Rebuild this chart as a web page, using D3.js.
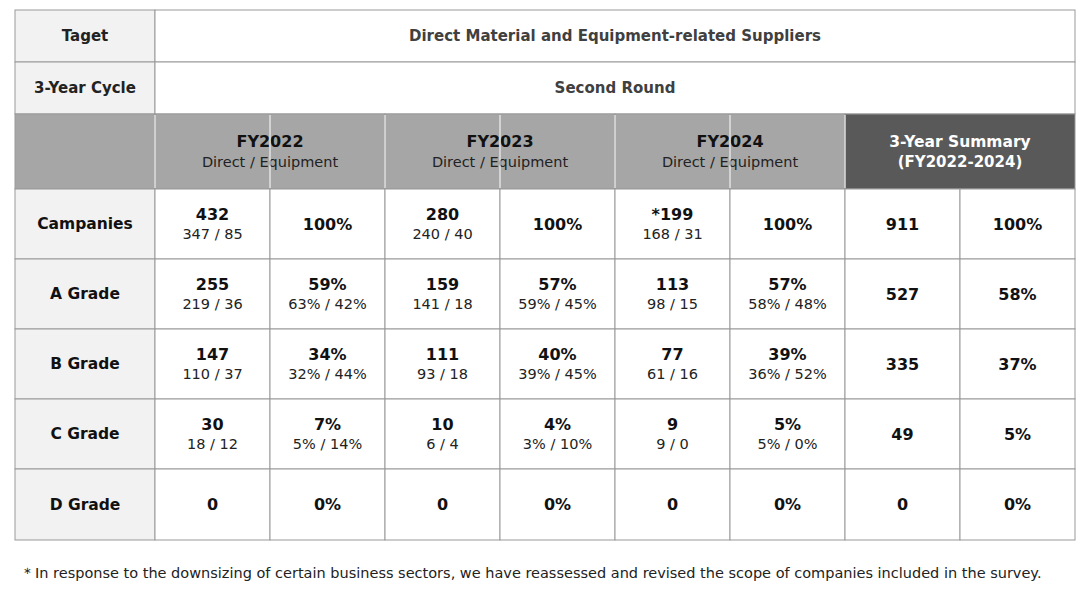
<!DOCTYPE html>
<html><head><meta charset="utf-8">
<script src="https://cdn.jsdelivr.net/npm/d3@7"></script>
<style>body{margin:0;background:#fff}</style>
</head><body>
<svg id="chart" width="1090" height="600"></svg>
<script>
// data
var years = ["FY2022", "FY2023", "FY2024"];
var rowLabels = ["Campanies", "A Grade", "B Grade", "C Grade", "D Grade"];
var counts = [["432", "280", "*199"], ["255", "159", "113"], ["147", "111", "77"], ["30", "10", "9"], ["0", "0", "0"]];
var countSplit = [["347 / 85", "240 / 40", "168 / 31"], ["219 / 36", "141 / 18", "98 / 15"], ["110 / 37", "93 / 18", "61 / 16"], ["18 / 12", "6 / 4", "9 / 0"], ["", "", ""]];
var shares = [["100%", "100%", "100%"], ["59%", "57%", "57%"], ["34%", "40%", "39%"], ["7%", "4%", "5%"], ["0%", "0%", "0%"]];
var shareSplit = [["", "", ""], ["63% / 42%", "59% / 45%", "58% / 48%"], ["32% / 44%", "39% / 45%", "36% / 52%"], ["5% / 14%", "3% / 10%", "5% / 0%"], ["", "", ""]];
var summaryCount = ["911", "527", "335", "49", "0"];
var summaryShare = ["100%", "58%", "37%", "5%", "0%"];

var svg = d3.select("#chart");
var font = "DejaVu Sans, Verdana, sans-serif";
var border = "#999";

// columns: 0 = label, 1..8 data
var colEdge = function(i) { return i === 0 ? 15 : 155 + (i - 1) * 115; };
var rowEdges = [10, 62, 114, 189, 259, 329, 399, 469, 540];

function cell(x0, x1, y0, y1, fill, lines) {
  svg.append("rect").attr("x", x0).attr("y", y0).attr("width", x1 - x0).attr("height", y1 - y0)
    .attr("fill", fill).attr("stroke", border).attr("stroke-width", 1);
  var cx = (x0 + x1) / 2, cy = (y0 + y1) / 2;
  var n = lines.filter(function(l) { return l.t; }).length;
  var i = 0;
  lines.forEach(function(l) {
    if (!l.t) return;
    var dy = n === 2 ? (i === 0 ? -10 : 10) : 0;
    svg.append("text").attr("x", cx).attr("y", cy + dy).attr("text-anchor", "middle")
      .attr("dominant-baseline", "central").attr("font-family", font)
      .attr("font-size", l.s || 15).attr("font-weight", l.b ? "bold" : "normal")
      .attr("fill", l.c || "#111").text(l.t);
    i++;
  });
}

// top rows
cell(colEdge(0), colEdge(1), rowEdges[0], rowEdges[1], "#f2f2f2", [{t: "Taget", b: 1, c: "#222"}]);
cell(colEdge(1), colEdge(9), rowEdges[0], rowEdges[1], "#fff", [{t: "Direct Material and Equipment-related Suppliers", b: 1, c: "#404040"}]);
cell(colEdge(0), colEdge(1), rowEdges[1], rowEdges[2], "#f2f2f2", [{t: "3-Year Cycle", b: 1, c: "#222"}]);
cell(colEdge(1), colEdge(9), rowEdges[1], rowEdges[2], "#fff", [{t: "Second Round", b: 1, c: "#404040"}]);

// header row
cell(colEdge(0), colEdge(1), rowEdges[2], rowEdges[3], "#a6a6a6", []);
years.forEach(function(y, k) {
  cell(colEdge(1 + 2 * k), colEdge(3 + 2 * k), rowEdges[2], rowEdges[3], "#a6a6a6",
    [{t: y, b: 1, s: 16}, {t: "Direct / Equipment", s: 14.5, c: "#222"}]);
});
cell(colEdge(7), colEdge(9), rowEdges[2], rowEdges[3], "#595959",
  [{t: "3-Year  Summary", b: 1, s: 15.5, c: "#fff"}, {t: "(FY2022-2024)", b: 1, s: 15, c: "#fff"}]);
// white separators inside header
svg.append("g").selectAll("line").data(d3.range(1, 8)).join("line")
  .attr("x1", function(d) { return colEdge(d); }).attr("x2", function(d) { return colEdge(d); })
  .attr("y1", rowEdges[2] + 1).attr("y2", rowEdges[3] - 1).attr("stroke", "#fff");

// body rows
rowLabels.forEach(function(lab, r) {
  var y0 = rowEdges[r + 3], y1 = rowEdges[r + 4];
  cell(colEdge(0), colEdge(1), y0, y1, "#f2f2f2", [{t: lab, b: 1, s: 15.5}]);
  years.forEach(function(y, k) {
    cell(colEdge(1 + 2 * k), colEdge(2 + 2 * k), y0, y1, "#fff",
      [{t: counts[r][k], b: 1, s: 16}, {t: countSplit[r][k], s: 14.5, c: "#222"}]);
    cell(colEdge(2 + 2 * k), colEdge(3 + 2 * k), y0, y1, "#fff",
      [{t: shares[r][k], b: 1, s: 16}, {t: shareSplit[r][k], s: 14.5, c: "#222"}]);
  });
  cell(colEdge(7), colEdge(8), y0, y1, "#fff", [{t: summaryCount[r], b: 1, s: 16}]);
  cell(colEdge(8), colEdge(9), y0, y1, "#fff", [{t: summaryShare[r], b: 1, s: 16}]);
});

svg.append("text").attr("x", 20).attr("y", 578).attr("font-family", font).attr("font-size", 14.5)
  .attr("fill", "#222")
  .text("\uFF0AIn response to the downsizing of certain business sectors, we have reassessed and revised the scope of companies included in the survey.");
</script>
</body></html>
